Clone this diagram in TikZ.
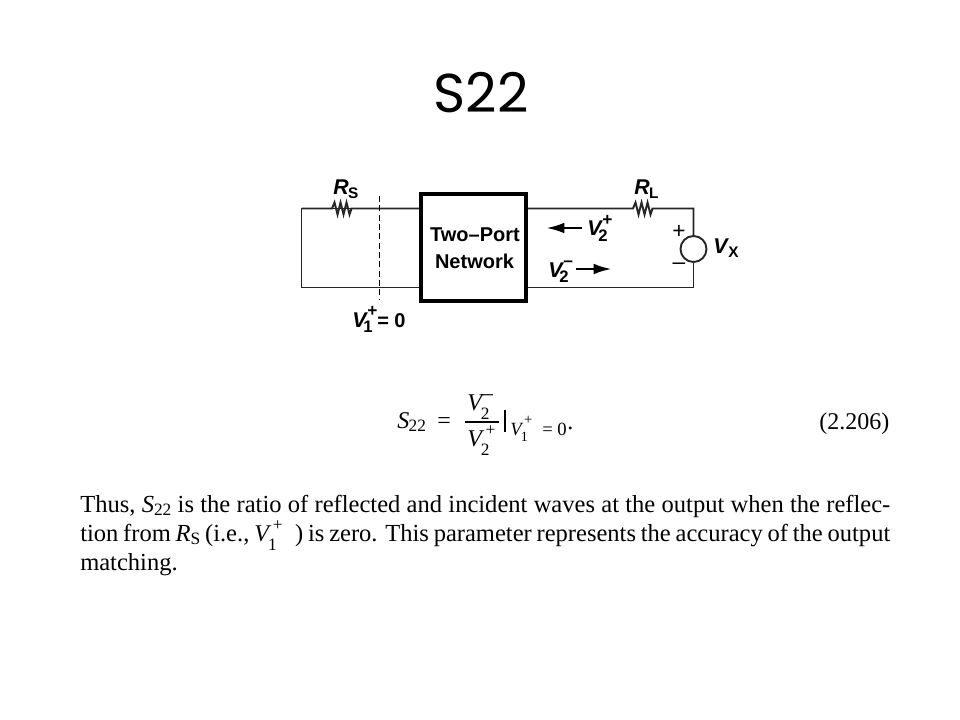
\documentclass[tikz,border=0pt]{standalone}
\usepackage{fontspec}
\setmainfont{Liberation Serif}
\newfontfamily\lsans{Liberation Sans}
\newfontfamily\titlefont{Poppins}
\usetikzlibrary{arrows.meta}
% diagram labels (bold sans)
\newcommand{\dlab}[2]{\textit{#1}\kern-0.5pt{\fontsize{11.5pt}{14pt}\selectfont\raisebox{-0.22em}{#2}}}
\newcommand{\volt}[2]{{\fontsize{16pt}{18pt}\selectfont\textit{V}}\kern-0.5pt\makebox[0pt][l]{\fontsize{13pt}{14pt}\selectfont\raisebox{0.62em}{#1}}\kern-3pt{\fontsize{12.5pt}{14pt}\selectfont\raisebox{-0.32em}{#2}}}
% book math (serif)
\newcommand{\mvolt}[2]{{\fontsize{18pt}{20pt}\selectfont\textit{V}}\kern-0.5pt\makebox[0pt][l]{\kern1.5pt\fontsize{13pt}{14pt}\selectfont\raisebox{0.6em}{#1}}\kern-2pt{\fontsize{13pt}{14pt}\selectfont\raisebox{-0.55em}{#2}}}
\newcommand{\svolt}[2]{{\fontsize{14pt}{16pt}\selectfont\textit{V}}\kern-0.5pt\makebox[0pt][l]{\kern1pt\fontsize{11pt}{12pt}\selectfont\raisebox{0.75em}{#1}}\kern-1.5pt{\fontsize{10.5pt}{12pt}\selectfont\raisebox{-0.45em}{#2}}}
\newcommand{\txsub}[2]{\textit{#1}{\fontsize{13pt}{14pt}\selectfont\raisebox{-0.22em}{#2}}}
\tikzset{
  wire/.style={line width=1.45pt,draw=black!85},
  port/.style={draw=black,line width=3pt,inner sep=0pt},
  lab/.style={font=\lsans\bfseries\fontsize{15pt}{18pt}\selectfont,inner sep=0pt,anchor=base},
  eqn/.style={font=\fontsize{18pt}{20pt}\selectfont,inner sep=0pt,anchor=base west},
  para/.style={font=\fontsize{18.4pt}{20pt}\selectfont,inner sep=0pt,anchor=base west},
  tip/.style={-{Latex[length=13pt,width=8pt]},line width=1.3pt}
}
\begin{document}
\begin{tikzpicture}[x=0.75pt,y=-0.75pt]
\useasboundingbox (0,0) rectangle (960,720);
\fill[white] (0,0) rectangle (960,720);
\node[inner sep=0pt,anchor=base] (title) at (481,113) {\titlefont\fontsize{41pt}{48pt}\selectfont S22};
% network
\node[port,minimum width=79pt,minimum height=80pt] (net) at (473.5,247.5) {};
\node[lab] (net1) at (475,242) {Two–Port};
\node[lab] (net2) at (474.5,269) {Network};
% coordinates
\coordinate (tl) at (301.5,208.5);
\coordinate (bl) at (301.5,287.5);
\coordinate (netlt) at (net.west |- tl);
\coordinate (netlb) at (net.west |- bl);
\coordinate (netrt) at (net.east |- tl);
\coordinate (netrb) at (net.east |- bl);
\coordinate (tr) at (693.5,208.5);
\coordinate (br) at (693.5,287.5);
% sources and resistors
\node[circle,draw=black!85,line width=1.45pt,minimum size=19.5pt,inner sep=0pt] (vx) at (693.5,249) {};
\coordinate (rsa) at (332,208.5);
\coordinate (rsb) at (353,208.5);
\coordinate (rla) at (633,208.5);
\coordinate (rlb) at (654,208.5);
\draw[wire] (netlt) -- (tl) -- (bl) -- (netlb);
\draw[wire] (tl) -- (rsa) -- ++(2.5,-6) -- ++(3,12) -- ++(3,-12) -- ++(3,12) -- ++(3,-12) -- ++(3,12) -- ++(2,-6) -- (rsb) -- (netlt);
\draw[wire] (netrt) -- (rla) -- ++(2.5,-6) -- ++(3,12) -- ++(3,-12) -- ++(3,12) -- ++(3,-12) -- ++(3,12) -- ++(2,-6) -- (rlb) -- (tr) -- (vx.north);
\draw[wire] (vx.south) -- (br) -- (netrb);
% dashed line
\coordinate (da) at (379.5,196);
\coordinate (db) at (379.5,300);
\draw[line width=1.3pt,dash pattern=on 4.5pt off 2.5pt] (da) -- (db);
% arrows
\coordinate (a1s) at (582,228);
\coordinate (a1e) at (547,228);
\coordinate (a2s) at (576,269);
\coordinate (a2e) at (611,269);
\draw[tip] (a1s) -- (a1e);
\draw[tip] (a2s) -- (a2e);
% labels
\node[lab,anchor=base west] (rs) at (333,195) {\fontsize{16pt}{18pt}\selectfont\dlab{R}{S}};
\node[lab,anchor=base west] (rl) at (634,195) {\fontsize{16pt}{18pt}\selectfont\dlab{R}{L}};
\node[lab,anchor=base west] (v2p) at (587,236) {\volt{+}{2}};
\node[lab,anchor=base west] (v2m) at (548,277) {\volt{–}{2}};
\node[lab,anchor=base west] (vxl) at (713,254) {\fontsize{16pt}{18pt}\selectfont\dlab{V}{X}};
\node[lab,anchor=base west] (v1) at (352,327) {\volt{+}{1}\kern3.5pt\fontsize{15pt}{16pt}\selectfont = 0};
\node[inner sep=0pt,font=\lsans\fontsize{17pt}{18pt}\selectfont] (plus) at (679,232) {+};
\node[inner sep=0pt,font=\lsans\fontsize{17pt}{18pt}\selectfont] (minus) at (679,266) {–};
% equation
\node[eqn] (e1) at (397,428) {\textit{S}\kern-0.5pt{\fontsize{13pt}{14pt}\selectfont\raisebox{-0.22em}{22}}};
\node[eqn] (e2) at (437,428) {=};
\node[eqn] (e3) at (467,410) {\mvolt{\kern-3pt\raisebox{-0.05em}{\fontsize{17pt}{18pt}\selectfont –}}{2}};
\node[eqn] (e4) at (467,446) {\mvolt{+}{2}};
\coordinate (fa) at (465,422);
\coordinate (fb) at (499,422);
\draw[line width=0.8pt] (fa) -- (fb);
\coordinate (ba) at (505,410);
\coordinate (bb) at (505,432);
\draw[line width=0.9pt] (ba) -- (bb);
\node[eqn] (e5) at (510,435) {\svolt{+}{1}};
\node[eqn] (e6) at (542,435) {\fontsize{14pt}{16pt}\selectfont = 0};
\node[eqn] (e7) at (567,429) {.};
\node[eqn] (e8) at (819,429) {(2.206)};
% paragraph
\node[para] (p1) at (80,512) {\hbox to 607.5pt{Thus, \txsub{S}{22} is the ratio of reflected and incident waves at the output when the reflec-}};
\node[para] (p2) at (80,541) {\hbox to 607.5pt{tion from \txsub{R}{S} (i.e., \mvolt{+}{1}\kern0.75em) is zero. This parameter represents the accuracy of the output}};
\node[para] (p3) at (80,570) {matching.};
\end{tikzpicture}
\end{document}
